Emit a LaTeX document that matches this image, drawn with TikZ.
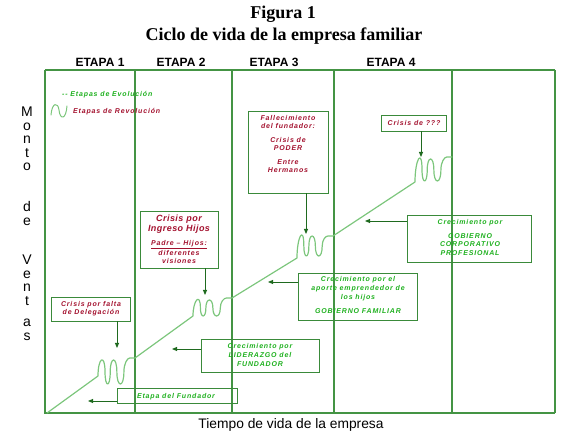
\documentclass[tikz,border=0pt]{standalone}
\usepackage{fontspec}
\setmainfont{Liberation Serif}
\setsansfont{Liberation Sans}
\newfontfamily\bxfont[LetterSpace=12]{Liberation Sans}
\newfontfamily\bxbigfont[LetterSpace=5]{Liberation Sans}
\newfontfamily\axfont{Liberation Sans}
\usetikzlibrary{arrows.meta}

\definecolor{framegreen}{HTML}{449444}
\definecolor{boxgreen}{HTML}{3A8A3A}
\definecolor{curvegreen}{HTML}{7CC67C}
\definecolor{arrgreen}{HTML}{1F6A1F}
\definecolor{txtgreen}{HTML}{1EB01E}
\definecolor{txtred}{HTML}{A3112E}

% wave continuing a path from its start point (#1,#2); #3 width, #4 mid level, #5 amplitude, #6 end level
\newcommand\wavefrom[6]{%
 .. controls +(0,{-((#2-#4)/2+#5)/0.75}) and +(0,{-((#2-#4)/2+#5)/0.75}) .. ({#1+0.19*#3},#4)
 .. controls +(0,{#5/0.75}) and +(0,{#5/0.75}) .. ({#1+0.33*#3},#4)
 .. controls +(0,{-#5/0.75}) and +(0,{-#5/0.75}) .. ({#1+0.51*#3},#4)
 .. controls +(0,{#5/0.75}) and +(0,{#5/0.75}) .. ({#1+0.70*#3},#4)
 .. controls +(0,{-(#4-#6)*0.6}) and +({-0.07*#3},0) .. ({#1+0.86*#3},#6)
 -- ({#1+#3},#6)}

\tikzset{
 frame/.style={draw=framegreen, line width=1.2pt},
 curve/.style={draw=curvegreen, line width=1.2pt, line join=round, line cap=round},
 box/.style 2 args={draw=boxgreen, line width=0.9pt, rectangle, inner sep=0pt, minimum width=#1, minimum height=#2},
 arr/.style={draw=arrgreen, line width=0.9pt, -{Triangle[length=5pt,width=4pt]}},
 redtxt/.style={text=txtred, font=\bxfont\bfseries\itshape\fontsize{7}{7.5}\selectfont, align=center, inner sep=0pt, anchor=north},
 grntxt/.style={text=txtgreen, font=\bxfont\bfseries\itshape\fontsize{7}{8.5}\selectfont, align=center, inner sep=0pt, anchor=north},
 etapa/.style={font=\sffamily\bfseries\fontsize{12}{12}\selectfont, anchor=base, inner sep=0pt},
 axl/.style={font=\axfont\fontsize{14}{14}\selectfont, anchor=base, inner sep=0pt},
 ttl/.style={font=\bfseries\fontsize{18}{20}\selectfont, anchor=base, inner sep=0pt}
}

\begin{document}
\begin{tikzpicture}[x=1pt,y=-1pt]
\useasboundingbox (0,0) rectangle (566,438);

% titles
\node[ttl] (t1) at (283,19) {Figura 1};
\node[ttl] (t2) at (284,41) {Ciclo de vida de la empresa familiar};

% stage labels
\node[etapa] (e1) at (100,67) {ETAPA 1};
\node[etapa] (e2) at (181,67) {ETAPA 2};
\node[etapa] (e3) at (274,67) {ETAPA 3};
\node[etapa] (e4) at (391,67) {ETAPA 4};

% frame
\draw[frame] (45,70) -- (555,70);
\draw[frame] (45,70) -- (45,413) -- (555,413);
\foreach \xx in {135,232,334,452,555} \draw[frame] (\xx,70) -- (\xx,413);

% vertical axis label
\foreach \l/\yy [count=\i] in {M/117,o/130.5,n/144,t/157.5,o/171,d/212,e/225.5,V/265,e/278.5,n/292,t/305.5,a/327,s/341}
  \node[axl] (y\i) at (27,\yy) {\l};

% horizontal axis label
\node[font=\axfont\fontsize{13.8}{14}\selectfont, anchor=base, inner sep=0pt] (xl) at (291,429) {Tiempo de vida de la empresa};

% legend
\node[text=txtgreen, font=\bxfont\bfseries\itshape\fontsize{7}{8}\selectfont, anchor=west, inner sep=0pt] (lg1) at (62,95) {-{}- Etapas de Evolución};
\node[text=txtred, font=\bxfont\bfseries\itshape\fontsize{7}{8}\selectfont, anchor=west, inner sep=0pt] (lg2) at (73,112) {Etapas de Revolución};
\draw[curve, line width=1pt] (51,115) .. controls (52,102) and (58,102) .. (59,110) .. controls (60,120) and (66,120) .. (67,106);

% growth curve
\coordinate (O) at (47,413);
\draw[curve] (O) -- (98,376) \wavefrom{98}{376}{37}{372}{12}{358}
  -- (193,316) \wavefrom{193}{316}{39}{308}{8}{298}
  -- (297,258) \wavefrom{297}{258}{36}{246}{10}{236}
  -- (415,182) \wavefrom{415}{182}{37}{170}{11}{157};

% arrow tips
\coordinate (a1) at (117,348);
\coordinate (a2) at (205,295);
\coordinate (a3) at (306,234);
\coordinate (a4) at (421,157);
\coordinate (a5) at (365,221);
\coordinate (a6) at (268,282);
\coordinate (a7) at (172,349);
\coordinate (a8) at (88,401);

% boxes
\node[box={79pt}{24pt}] (B1) at (90.5,309) {};
\node[redtxt] (T1) at (91,301.5) {Crisis por falta\\de Delegación};

\node[box={78pt}{57pt}] (B2) at (179,239.5) {};
\node[redtxt, font=\bxbigfont\bfseries\itshape\fontsize{9}{10}\selectfont] (T2a) at (179,214.5) {Crisis por\\Ingreso Hijos};
\node[redtxt, font=\bxfont\bfseries\itshape\fontsize{7}{8}\selectfont] (T2b) at (179,240.5) {\underline{Padre – Hijos:}\\diferentes\\visiones};

\node[box={80pt}{82pt}] (B3) at (288,152) {};
\node[redtxt] (T3) at (288,115.5) {Fallecimiento\\del fundador:\\[7pt]Crisis de\\PODER\\[7pt]Entre\\Hermanos};

\node[box={65pt}{16pt}] (B4) at (413.5,123) {};
\node[redtxt] (T4) at (414,120.5) {Crisis de ???};

\node[box={124pt}{47pt}] (B5) at (469,238.5) {};
\node[grntxt] (T5) at (470,219.5) {Crecimiento por\\[5pt]GOBIERNO\\CORPORATIVO\\PROFESIONAL};

\node[box={119pt}{47pt}] (B6) at (357.5,296.5) {};
\node[grntxt, font=\bxfont\bfseries\itshape\fontsize{7}{9}\selectfont] (T6) at (358,276.5) {Crecimiento por el\\aporte emprendedor de\\los hijos\\[5pt]GOBIERNO FAMILIAR};

\node[box={118pt}{33pt}] (B7) at (260,355.5) {};
\node[grntxt, font=\bxfont\bfseries\itshape\fontsize{7}{9}\selectfont] (T7) at (260,343.5) {Crecimiento por\\LIDERAZGO del\\FUNDADOR};

\node[box={120pt}{15pt}] (B8) at (177,395.5) {};
\node[grntxt] (T8) at (176,393) {Etapa del Fundador};

% arrows
\draw[arr] (B1.south -| a1) -- (a1);
\draw[arr] (B2.south -| a2) -- (a2);
\draw[arr] (B3.south -| a3) -- (a3);
\draw[arr] (B4.south -| a4) -- (a4);
\draw[arr] (B5.west |- a5) -- (a5);
\draw[arr] (B6.west |- a6) -- (a6);
\draw[arr] (B7.west |- a7) -- (a7);
\draw[arr] (B8.west |- a8) -- (a8);
\end{tikzpicture}
\end{document}
